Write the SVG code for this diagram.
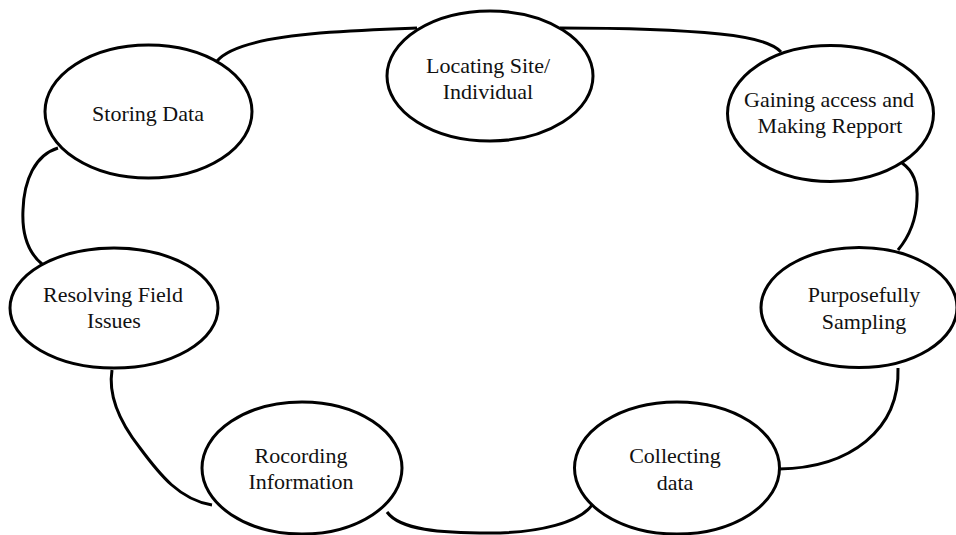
<svg xmlns="http://www.w3.org/2000/svg" width="956" height="535" viewBox="0 0 956 535">
<style>
.node{fill:#fff;stroke:#000;stroke-width:3}
.lbl{font-family:"Liberation Serif","Times New Roman",serif;font-size:22px;fill:#111;text-anchor:middle}
.conn path{fill:none;stroke:#000;stroke-width:3}
</style>
<rect width="956" height="535" fill="#fff"/>
<g id="connectors" class="conn">
<path d="M217,61 C228,48 260,38 320,33 C360,30 390,29 417,28"/>
<path d="M560,28 C620,28 680,30 720,34 C750,37 772,42 781,52"/>
<path d="M902,163 C915,172 918,185 917,200 C916,222 908,238 898,250"/>
<path d="M898,368 C900,430 850,468 779,469"/>
<path d="M592,505 C580,522 540,533 490,533 C440,533 400,530 387,512"/>
<path d="M212,505 C180,500 160,475 140,448 C118,420 108,395 112,370"/>
<path d="M42,264 C25,250 22,230 23,210 C24,180 35,155 58,148"/>
</g>
<g id="storing">
<ellipse class="node" cx="148.5" cy="111.5" rx="103.5" ry="66.5"/>
<text class="lbl" x="148" y="121">Storing Data</text>
</g>
<g id="locating">
<ellipse class="node" cx="490" cy="76" rx="103" ry="65"/>
<text class="lbl" x="488" y="73">Locating Site/</text>
<text class="lbl" x="488" y="99">Individual</text>
</g>
<g id="gaining">
<ellipse class="node" cx="830.5" cy="113.5" rx="103" ry="68"/>
<text class="lbl" x="829" y="107">Gaining access and</text>
<text class="lbl" x="830" y="133">Making Repport</text>
</g>
<g id="purposefully">
<ellipse class="node" cx="859" cy="307.5" rx="98" ry="60"/>
<text class="lbl" x="864" y="302">Purposefully</text>
<text class="lbl" x="864" y="329">Sampling</text>
</g>
<g id="collecting">
<ellipse class="node" cx="677" cy="468" rx="102.5" ry="66"/>
<text class="lbl" x="675" y="463">Collecting</text>
<text class="lbl" x="675" y="490">data</text>
</g>
<g id="recording">
<ellipse class="node" cx="302" cy="468" rx="100" ry="66"/>
<text class="lbl" x="301" y="463">Rocording</text>
<text class="lbl" x="301" y="489">Information</text>
</g>
<g id="resolving">
<ellipse class="node" cx="114" cy="308" rx="104" ry="60"/>
<text class="lbl" x="113" y="302">Resolving Field</text>
<text class="lbl" x="114" y="328">Issues</text>
</g>
</svg>
